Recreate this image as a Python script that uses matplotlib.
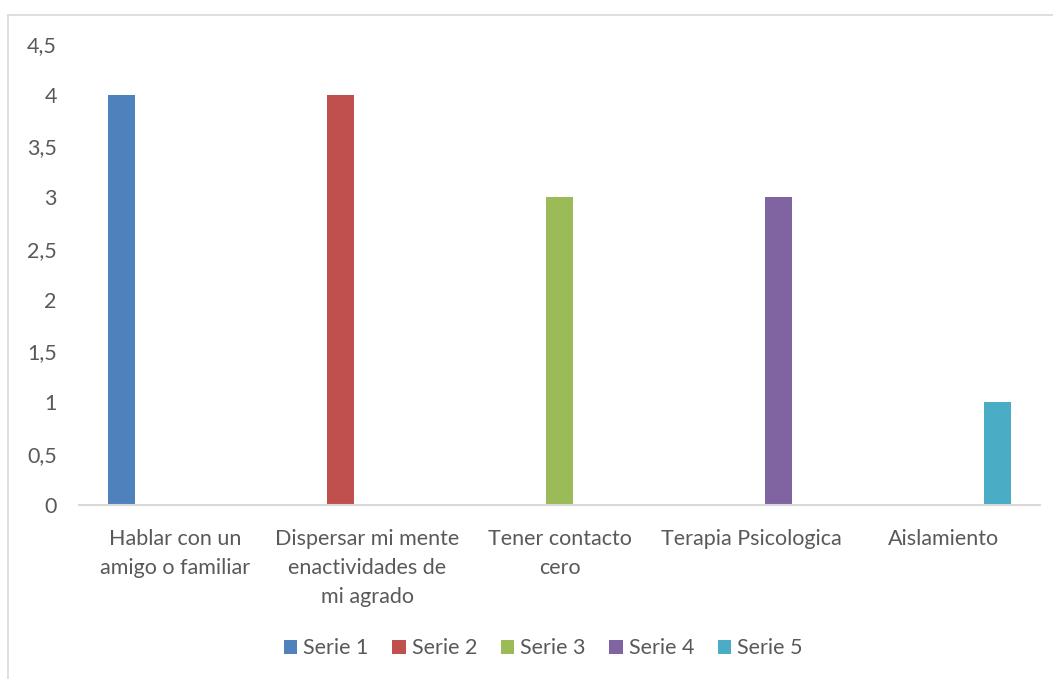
import matplotlib
matplotlib.use('Agg')
import matplotlib.pyplot as plt
import numpy as np

categories = ['Hablar con un\namigo o familiar',
              'Dispersar mi mente\nenactividades de\nmi agrado',
              'Tener contacto\ncero',
              'Terapia Psicologica',
              'Aislamiento']
series_names = ['Serie 1', 'Serie 2', 'Serie 3', 'Serie 4', 'Serie 5']
# each series only has a value in its own category
serie1 = [4, 0, 0, 0, 0]
serie2 = [0, 4, 0, 0, 0]
serie3 = [0, 0, 3, 0, 0]
serie4 = [0, 0, 0, 3, 0]
serie5 = [0, 0, 0, 0, 1]
yticks = [0, 0.5, 1, 1.5, 2, 2.5, 3, 3.5, 4, 4.5]
ytick_labels = ['0', '0,5', '1', '1,5', '2', '2,5', '3', '3,5', '4', '4,5']

colors = ['#4F81BD', '#C0504D', '#9BBB59', '#8064A2', '#4BACC6']
txt = '#595959'
fs = 15.5
plt.rcParams['font.family'] = ['Lato', 'DejaVu Sans']

fig = plt.figure(figsize=(10.53, 6.79), dpi=100)
ax = fig.add_axes([0.075, 0.2563, 0.9127, 0.6793])

x = np.arange(len(categories))
w = 0.139
all_series = [serie1, serie2, serie3, serie4, serie5]
for i, (vals, name) in enumerate(zip(all_series, series_names)):
    ax.bar(x + (i - 2) * w, vals, w, color=colors[i], label=name)

ax.set_xlim(-0.5, len(categories) - 0.5)
ax.set_ylim(0, 4.5)
ax.set_yticks(yticks)
ax.set_yticklabels(ytick_labels)
ax.set_xticks(x)
ax.set_xticklabels(categories, linespacing=1.58)

for s in ['top', 'right', 'left']:
    ax.spines[s].set_visible(False)
ax.spines['bottom'].set_color('#d9d9d9')
ax.spines['bottom'].set_linewidth(1.5)
ax.tick_params(axis='both', length=0, labelsize=fs, colors=txt)
ax.tick_params(axis='y', pad=16)
ax.tick_params(axis='x', pad=17)

# chart border (top and left visible)
fig.add_artist(plt.Line2D([0.008, 1.0], [0.978, 0.978], color='#d9d9d9', lw=1.2, transform=fig.transFigure))
fig.add_artist(plt.Line2D([0.008, 0.008], [0.0, 0.978], color='#d9d9d9', lw=1.2, transform=fig.transFigure))

leg = fig.legend(loc='center', bbox_to_anchor=(0.516, 0.045), ncol=5, frameon=False,
                 handlelength=0.63, handleheight=0.63, handletextpad=0.27,
                 columnspacing=1.1, fontsize=fs)
for t in leg.get_texts():
    t.set_color(txt)

fig.savefig('out.png', dpi=100)
